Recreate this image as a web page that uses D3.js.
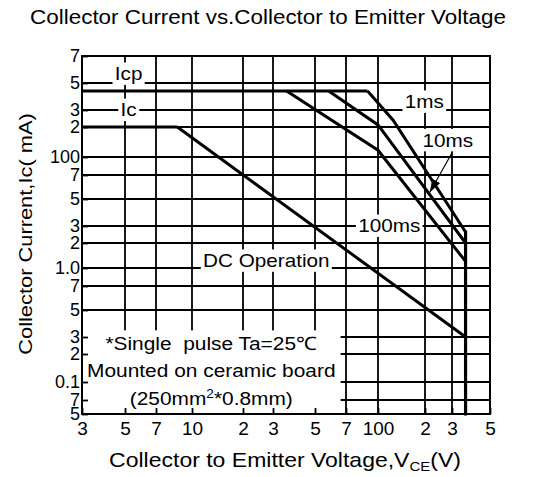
<!DOCTYPE html>
<meta charset="utf-8">
<style>
body { margin: 0; background: #fff; }
svg text { font-family: "Liberation Sans", Arial, sans-serif; fill: #000; }
</style>
<div id="chart"></div>
<script src="https://cdn.jsdelivr.net/npm/d3@7"></script>
<script>

// tick values and the labels printed on the sheet
var xTicks = [3, 5, 7, 10, 20, 30, 50, 70, 100, 200, 300, 500];
var xTickLabels = ["3", "5", "7", "10", "2", "3", "5", "7", "100", "2", "3", "5"];
var yTicks = [0.05, 0.07, 0.1, 0.2, 0.3, 0.5, 0.7, 1, 2, 3, 5, 7, 10, 20, 30, 50, 70];
var yTickLabels = ["5", "7", "0.1", "2", "3", "5", "7", "1.0", "2", "3", "5", "7", "100", "2", "3", "5", "7"];

// curves, points are [VCE, Ic]
var icpLine = [[3, 43], [89, 43]];
var icLine = [[3, 20], [8.65, 20]];
var dcLine = [[8.65, 20], [360, 0.3]];
var pulse1ms = [[89, 43], [125, 23.5], [360, 2.6]];
var pulse10ms = [[58, 43], [100, 21], [360, 2.0]];
var pulse100ms = [[35.4, 43], [100, 11.7], [360, 1.2]];
var vceoLine = [[360, 2.6], [360, 0.05]];

// curve names, placed at [VCE, Ic]
var curveLabels = ["Icp", "Ic", "1ms", "10ms", "100ms", "DC Operation"];
var curveLabelAt = [[5.2, 56], [5.2, 30], [198, 35], [282, 14.7], [118, 3], [27.4, 1.22]];
var arrow10ms = [[299, 10.9], [215, 5.5]];

// note box corners and its text
var noteBox = [[3, 0.34], [66, 0.05]];
var noteLines = ["*Single  pulse Ta=25℃", "Mounted on ceramic board", "(250mm|2|*0.8mm)"];

var margin = {top: 56, right: 46, bottom: 63, left: 82},
    width = 536 - margin.left - margin.right,
    height = 477 - margin.top - margin.bottom;

// the printed grid is not evenly spaced, so the log scales follow its lines
var x = d3.scaleLog()
  .domain(xTicks)
  .range([0, 43, 74, 110, 161, 191, 233, 264, 296, 343, 370, 408]);
var y = d3.scaleLog()
  .domain(yTicks)
  .range([358, 344, 326, 298, 281, 254, 230, 212, 187, 170, 143, 119, 101, 71, 54, 27, 0]);

var svg = d3.select("#chart").append("svg")
  .attr("width", 536)
  .attr("height", 477);

svg.append("defs").append("marker")
  .attr("id", "head")
  .attr("markerUnits", "userSpaceOnUse")
  .attr("markerWidth", 13).attr("markerHeight", 9)
  .attr("refX", 13).attr("refY", 4.5)
  .attr("orient", "auto")
  .append("path")
    .attr("d", "M0,0 L13,4.5 L0,9 Z")
    .attr("fill", "#000");

// title
svg.append("text")
  .attr("transform", "translate(268,24) scale(1.15,1)")
  .attr("text-anchor", "middle")
  .style("font-size", "19.5px")
  .text("Collector Current vs.Collector to Emitter Voltage");

var g = svg.append("g")
  .attr("transform", "translate(" + margin.left + "," + margin.top + ")");

// grid
g.selectAll(".vgrid").data(xTicks).enter().append("line")
  .attr("x1", function(d) { return x(d); })
  .attr("x2", function(d) { return x(d); })
  .attr("y1", 0).attr("y2", height)
  .attr("stroke", "#000").attr("stroke-width", 1.8);
g.selectAll(".hgrid").data(yTicks).enter().append("line")
  .attr("y1", function(d) { return y(d); })
  .attr("y2", function(d) { return y(d); })
  .attr("x1", 0).attr("x2", width)
  .attr("stroke", "#000").attr("stroke-width", 1.8);

// note box hides the grid
var bx0 = x(noteBox[0][0]), by0 = y(noteBox[0][1]),
    bx1 = x(noteBox[1][0]), by1 = y(noteBox[1][1]);
g.append("rect")
  .attr("x", bx0 + 1).attr("y", by0)
  .attr("width", bx1 - bx0 - 1).attr("height", by1 - by0 - 1)
  .attr("fill", "#fff");
var noteOffsets = [13, 40, 68];
noteLines.forEach(function(s, i) {
  var t = g.append("text")
    .attr("transform", "translate(" + ((bx0 + bx1) / 2) + "," + (by0 + noteOffsets[i]) + ") scale(1.13,1)")
    .attr("text-anchor", "middle")
    .attr("dy", "0.35em")
    .style("font-size", "18.5px")
    .style("white-space", "pre");
  var parts = s.split("|");
  t.append("tspan").text(parts[0]);
  if (parts.length > 1) {
    t.append("tspan").attr("dy", -7).style("font-size", "12px").text(parts[1]);
    t.append("tspan").attr("dy", 7).text(parts[2]);
  }
});

// axes, ticks point inwards
var xAxis = g.append("g")
  .attr("transform", "translate(0," + height + ")")
  .call(d3.axisBottom(x)
    .tickValues(xTicks)
    .tickFormat(function(d, i) { return xTickLabels[i]; })
    .tickSizeInner(-6).tickSizeOuter(0).tickPadding(8))
  .attr("font-size", 19);
xAxis.select(".domain").remove();
xAxis.selectAll("line").attr("stroke-width", 1.8);

var yAxis = g.append("g")
  .call(d3.axisLeft(y)
    .tickValues(yTicks)
    .tickFormat(function(d, i) { return yTickLabels[i]; })
    .tickSizeInner(-6).tickSizeOuter(0).tickPadding(2))
  .attr("font-size", 18);
yAxis.select(".domain").remove();
yAxis.selectAll("line").attr("stroke-width", 1.8);

g.append("rect")
  .attr("width", width).attr("height", height)
  .attr("fill", "none").attr("stroke", "#000").attr("stroke-width", 2);

// curve labels with white backing
curveLabels.forEach(function(s, i) {
  var lg = g.append("g")
    .attr("transform", "translate(" + x(curveLabelAt[i][0]) + "," + y(curveLabelAt[i][1]) + ") scale(1.15,1)");
  var r = lg.append("rect").attr("fill", "#fff");
  var t = lg.append("text")
    .attr("text-anchor", "middle")
    .attr("dy", "0.35em")
    .style("font-size", "18px")
    .text(s);
  var b = t.node().getBBox();
  r.attr("x", b.x - 2).attr("y", b.y - 1)
    .attr("width", b.width + 4).attr("height", b.height + 2);
});

// curves
var line = d3.line()
  .x(function(d) { return x(d[0]); })
  .y(function(d) { return y(d[1]); });

[icpLine, icLine, dcLine, pulse1ms, pulse10ms, pulse100ms].forEach(function(c) {
  g.append("path")
    .attr("d", line(c))
    .attr("fill", "none")
    .attr("stroke", "#000")
    .attr("stroke-width", 3)
    .attr("stroke-linejoin", "miter");
});
g.append("path")
  .attr("d", line(vceoLine))
  .attr("fill", "none")
  .attr("stroke", "#000")
  .attr("stroke-width", 3.2)
  .attr("stroke-linecap", "square");

g.append("path")
  .attr("d", line(arrow10ms))
  .attr("stroke", "#000")
  .attr("stroke-width", 1.2)
  .attr("marker-end", "url(#head)");

// axis titles
svg.append("text")
  .attr("transform", "translate(25,234) rotate(-90) scale(1.15,1)")
  .attr("text-anchor", "middle")
  .attr("dy", "0.35em")
  .style("font-size", "19px")
  .text("Collector Current,Ic( mA)");

var xt = svg.append("text")
  .attr("transform", "translate(285,467) scale(1.15,1)")
  .attr("text-anchor", "middle")
  .style("font-size", "20px");
xt.append("tspan").text("Collector to Emitter Voltage,V");
xt.append("tspan").attr("dy", 4).style("font-size", "13px").text("CE");
xt.append("tspan").attr("dy", -4).text("(V)");

</script>
